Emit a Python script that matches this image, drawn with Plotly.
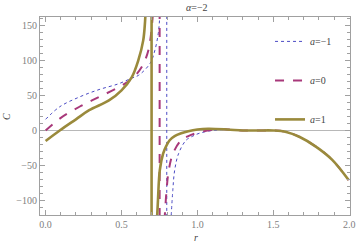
import plotly.graph_objects as go

# ---- data ----
# a = -1 (blue dotted)
r_m1_up = [0.0, 0.093, 0.223, 0.352, 0.482, 0.567, 0.612, 0.688, 0.72, 0.742, 0.75, 0.756]
c_m1_up = [16, 34, 48, 58.6, 67, 75, 79, 96, 115, 139, 157, 180]
pole_m1 = 0.798
r_m1_lo = [0.825, 0.838, 0.85, 0.876, 0.925, 0.97, 1.012, 1.098, 1.2, 1.3, 1.4, 1.5, 1.585, 1.671, 1.78, 1.888, 1.996]
c_m1_lo = [-130, -85, -57, -33, -14, -8, -4, 0, 1.5, 0, 0, 0, -2, -9, -23, -42, -71]

# a = 0 (magenta dashed)
r_0_up = [0.0, 0.093, 0.223, 0.352, 0.482, 0.568, 0.633, 0.677, 0.703, 0.709]
c_0_up = [0, 17, 34, 48, 62, 74, 91, 115, 157, 180]
pole_0 = 0.751
r_0_lo = [0.783, 0.795, 0.811, 0.839, 0.893, 0.94, 0.99, 1.077, 1.15, 1.2, 1.3, 1.4, 1.5, 1.585, 1.671, 1.78, 1.888, 1.996]
c_0_lo = [-130, -90, -57, -33, -14, -8, -4, 0.5, 2, 1.5, 0, 0, 0, -2, -9, -23, -42, -71]

# a = 1 (gold solid)
r_1_up = [0.0, 0.093, 0.2, 0.287, 0.417, 0.5, 0.567, 0.61, 0.643, 0.655, 0.66]
c_1_up = [-15, 0, 16, 29, 43, 57.5, 76, 100, 129, 156, 180]
pole_1 = 0.698
r_1_lo = [0.733, 0.74, 0.752, 0.774, 0.795, 0.817, 0.85, 0.893, 0.94, 1.0, 1.07, 1.196, 1.3, 1.4, 1.5, 1.585, 1.671, 1.78, 1.888, 1.996]
c_1_lo = [-130, -100, -57, -33, -22, -14, -8, -4, -1, 1.4, 2.5, 1.5, 0, 0, 0, -2, -9, -23, -42, -71]

labels = ["<i>a</i>=−1", "<i>a</i>=0", "<i>a</i>=1"]
colors = ["#4a4ac4", "#a8387a", "#9a8a3c"]
dashes = ["dot", "dash", "solid"]
widths = [1.0, 2.0, 2.6]

series = [
    (r_m1_up, c_m1_up, pole_m1, r_m1_lo, c_m1_lo),
    (r_0_up, c_0_up, pole_0, r_0_lo, c_0_lo),
    (r_1_up, c_1_up, pole_1, r_1_lo, c_1_lo),
]

fig = go.Figure()
for i, (ru, cu, p, rl, cl) in enumerate(series):
    line = dict(color=colors[i], dash=dashes[i], width=widths[i])
    g = "g%d" % i
    fig.add_trace(go.Scatter(x=ru, y=cu, mode="lines", line=dict(line, shape="spline"),
                             name=labels[i], legendgroup=g, showlegend=True))
    fig.add_trace(go.Scatter(x=[p, p], y=[-1000, 1000], mode="lines", line=line,
                             legendgroup=g, showlegend=False))
    fig.add_trace(go.Scatter(x=rl, y=cl, mode="lines", line=dict(line, shape="spline"),
                             legendgroup=g, showlegend=False))

font_fam = "Liberation Serif"
axis_common = dict(
    showline=True, linecolor="#a0a0a0", linewidth=1, mirror="allticks",
    ticks="inside", ticklen=5, tickcolor="#a0a0a0", tickwidth=1,
    showgrid=False, tickfont=dict(family=font_fam, size=10, color="#808080"),
)
fig.update_xaxes(range=[-0.037, 2.005], tickvals=[0, 0.5, 1.0, 1.5, 2.0],
                 ticktext=["0.0", "0.5", "1.0", "1.5", "2.0"], zeroline=False,
                 ticklabelstandoff=0,
                 minor=dict(dtick=0.1, ticks="inside", ticklen=3, tickcolor="#a0a0a0", showgrid=False),
                 **axis_common)
fig.update_yaxes(range=[-121, 162.5], tickvals=[-100, -50, 0, 50, 100, 150],
                 ticktext=["−100", "−50", "0", "50", "100", "150"],
                 zeroline=True, zerolinecolor="#b8b8b8", zerolinewidth=1,
                 minor=dict(dtick=10, ticks="inside", ticklen=3, tickcolor="#a0a0a0", showgrid=False),
                 **axis_common)

fig.update_layout(
    width=361, height=246,
    margin=dict(l=40, r=6, t=17, b=31),
    paper_bgcolor="white", plot_bgcolor="white",
    font=dict(family=font_fam, size=10, color="#444"),
    showlegend=True,
    legend=dict(x=0.742, y=0.95, xanchor="left", yanchor="top", bgcolor="rgba(0,0,0,0)",
                tracegroupgap=20, font=dict(family=font_fam, size=10, color="#444"),
                itemwidth=30),
    annotations=[
        dict(text="<i>α</i>=−2", x=0.508, y=1.05, xref="paper", yref="paper",
             showarrow=False, font=dict(family=font_fam, size=10, color="#444"),
             xanchor="center", yanchor="middle"),
        dict(text="<i>C</i>", x=-0.11, y=0.5, xref="paper", yref="paper", textangle=-90,
             showarrow=False, font=dict(family=font_fam, size=10, color="#444"),
             xanchor="center", yanchor="middle"),
        dict(text="<i>r</i>", x=0.503, y=-0.116, xref="paper", yref="paper",
             showarrow=False, font=dict(family=font_fam, size=10, color="#444"),
             xanchor="center", yanchor="middle"),
    ],
)
fig.write_html("out.html", config={"displayModeBar": False},
               post_script="document.body.style.margin='0px';")
